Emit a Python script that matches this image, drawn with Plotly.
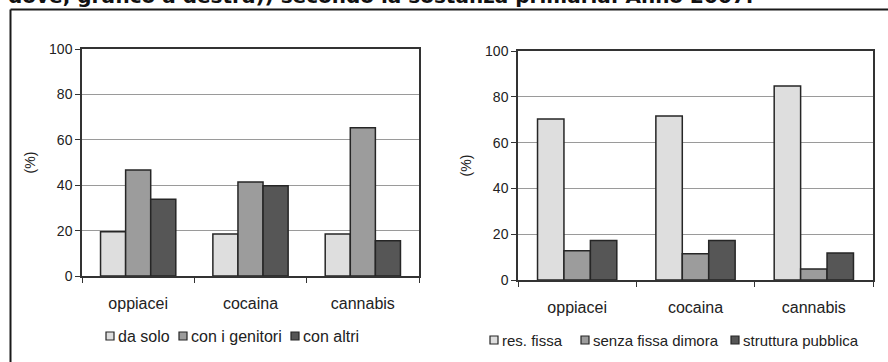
import plotly.graph_objects as go

W, H = 888, 362

# Data
sostanze = ["oppiacei", "cocaina", "cannabis"]

# Left chart: con chi vive
conv_labels = ["da solo", "con i genitori", "con altri"]
da_solo = [19.5, 18.5, 18.5]
con_genitori = [46.7, 41.4, 65.3]
con_altri = [33.8, 39.8, 15.5]

# Right chart: dove vive
dim_labels = ["res. fissa", "senza fissa dimora", "struttura pubblica"]
res_fissa = [70.3, 71.6, 84.7]
senza_fissa = [12.8, 11.5, 4.8]
struttura_pubblica = [17.2, 17.3, 11.8]

y_ticks = [0, 20, 40, 60, 80, 100]
title_text = "dove, grafico a destra)) secondo la sostanza primaria. Anno 2007."

fills = ["#dedede", "#9c9c9c", "#565656"]
edge = "#262626"
font_family = "Liberation Sans, Arial, sans-serif"


def px_x(x):
    return x / W


def px_y(y):
    return 1 - y / H


fig = go.Figure()

left_series = [da_solo, con_genitori, con_altri]
for name, vals, col in zip(conv_labels, left_series, fills):
    fig.add_trace(go.Bar(
        x=sostanze, y=vals, name=name, xaxis="x", yaxis="y",
        marker=dict(color=col, line=dict(color=edge, width=1.5)),
        showlegend=False,
    ))

right_series = [res_fissa, senza_fissa, struttura_pubblica]
for name, vals, col in zip(dim_labels, right_series, fills):
    fig.add_trace(go.Bar(
        x=sostanze, y=vals, name=name, xaxis="x2", yaxis="y2",
        marker=dict(color=col, line=dict(color=edge, width=1.5)),
        showlegend=False,
    ))

ytick_font = dict(family=font_family, size=14, color="#222")
xtick_font = dict(family=font_family, size=16, color="#222")


def xaxis_style(domain, anchor):
    return dict(
        domain=domain, anchor=anchor, type="category", automargin=False,
        showline=True, linecolor="#333", linewidth=1.5, mirror=True,
        ticks="outside", tickson="boundaries", ticklen=5, tickcolor="#333",
        tickfont=xtick_font, ticklabelstandoff=12, showgrid=False,
        fixedrange=True,
    )


def yaxis_style(domain, anchor):
    return dict(
        domain=domain, anchor=anchor, range=[0, 100], automargin=False,
        tickvals=y_ticks, ticks="outside", ticklen=5, tickcolor="#333",
        showline=True, linecolor="#333", linewidth=1.5, mirror=True,
        showgrid=True, gridcolor="#9a9a9a", gridwidth=1,
        zeroline=False, tickfont=ytick_font,
        title=dict(text="(%)", font=dict(family=font_family, size=14, color="#222"),
                   standoff=10),
        fixedrange=True,
    )


fig.update_layout(
    width=W, height=H,
    margin=dict(l=0, r=0, t=0, b=0, autoexpand=False),
    paper_bgcolor="white", plot_bgcolor="white",
    barmode="group", bargap=0.33, bargroupgap=0,
    font=dict(family=font_family, color="#222"),
    xaxis=xaxis_style([px_x(82), px_x(419)], "y"),
    yaxis=yaxis_style([px_y(276), px_y(49)], "x"),
    xaxis2=xaxis_style([px_x(518), px_x(873)], "y2"),
    yaxis2=yaxis_style([px_y(280), px_y(51)], "x2"),
    showlegend=False,
)

# Compact legends: swatch + label for each series, laid out in a row
legend_rows = [
    dict(labels=conv_labels, y=336, size=16, swatch_x=[106, 179, 291]),
    dict(labels=dim_labels, y=340, size=15, swatch_x=[490, 581, 731]),
]
sw = 8
for row in legend_rows:
    for label, col, sx in zip(row["labels"], fills, row["swatch_x"]):
        fig.add_shape(type="rect", xref="paper", yref="paper",
                      x0=px_x(sx), x1=px_x(sx + sw),
                      y0=px_y(row["y"] + sw / 2), y1=px_y(row["y"] - sw / 2),
                      fillcolor=col, line=dict(color=edge, width=1.2))
        fig.add_annotation(text=label, xref="paper", yref="paper",
                           x=px_x(sx + sw + 2), y=px_y(row["y"]),
                           xanchor="left", yanchor="middle", showarrow=False,
                           font=dict(family=font_family, size=row["size"], color="#222"))

# Outer frame of the figure panel (left and top edges)
fig.add_shape(type="line", xref="paper", yref="paper",
              x0=px_x(10.5), x1=px_x(10.5), y0=0, y1=px_y(9.5),
              line=dict(color="#1a1a1a", width=2))
fig.add_shape(type="line", xref="paper", yref="paper",
              x0=px_x(10.5), x1=1, y0=px_y(9.5), y1=px_y(9.5),
              line=dict(color="#1a1a1a", width=2))

# Caption line running off the top edge
fig.add_annotation(
    text="<b>" + title_text + "</b>", xref="paper", yref="paper",
    x=px_x(6), y=px_y(10), xanchor="left", yanchor="bottom",
    showarrow=False, font=dict(family="DejaVu Sans", size=20, color="#111"),
)

fig.write_html("out.html")
